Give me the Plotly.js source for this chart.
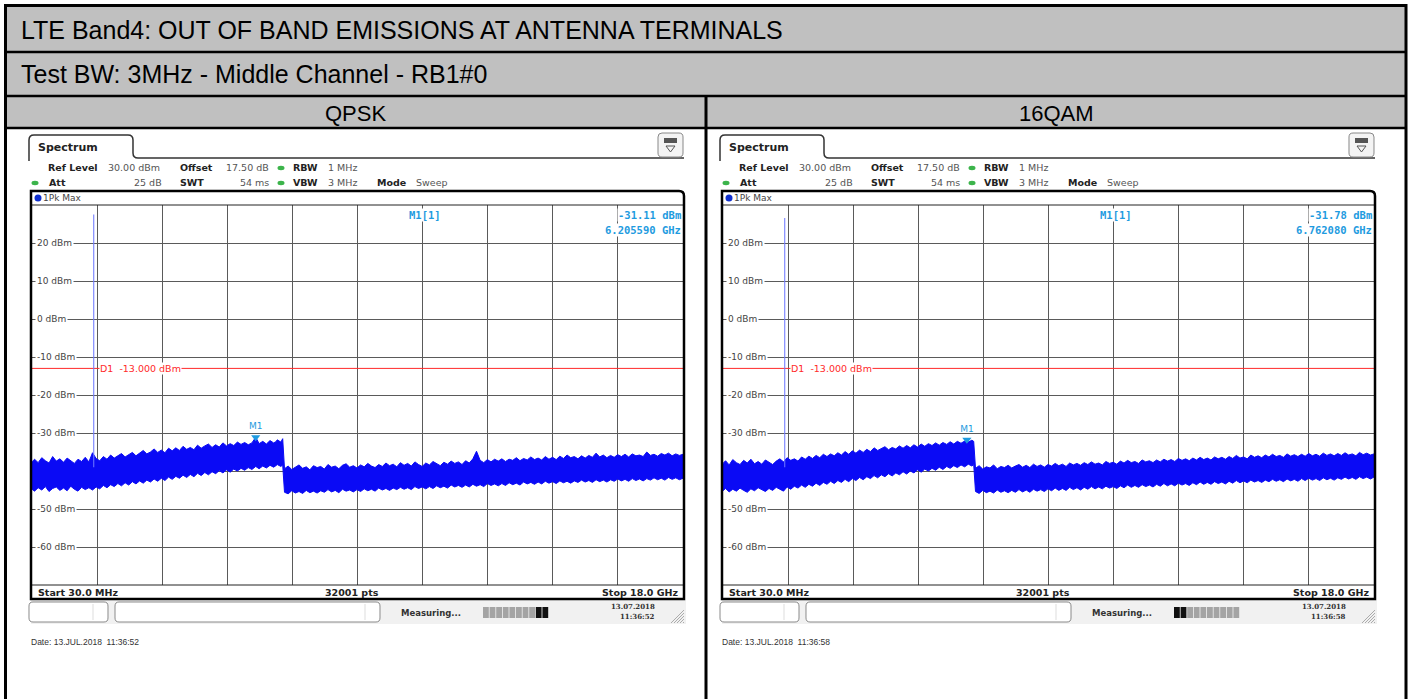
<!DOCTYPE html>
<html><head><meta charset="utf-8">
<script src="https://cdn.plot.ly/plotly-3.0.1.min.js"></script>
<style>html,body{margin:0;padding:0;background:#fff}#chart{width:1414px;height:699px}</style>
</head><body><div id="chart"></div>
<script>
// ---------- DATA ----------
// sweep frequencies (GHz): pre-step part, then post-step part
const freqPreGHz = [0.03,0.1,0.2,0.3,0.4,0.5,0.6,0.7,0.8,0.9,
 1.0,1.1,1.2,1.3,1.4,1.5,1.6,1.7,1.8,1.9,
 2.0,2.1,2.2,2.3,2.4,2.5,2.6,2.7,2.8,2.9,
 3.0,3.1,3.2,3.3,3.4,3.5,3.6,3.7,3.8,3.9,
 4.0,4.1,4.2,4.3,4.4,4.5,4.6,4.7,4.8,4.9,
 5.0,5.1,5.2,5.3,5.4,5.5,5.6,5.7,5.8,5.9,
 6.0,6.1,6.2056,6.3,6.4,6.5,6.6,6.7,6.762,6.8,6.9,6.95];
const freqPostGHz = [7.0,7.1,7.2,7.3,7.4,7.5,7.6,7.7,7.8,7.9,
 8.0,8.1,8.2,8.3,8.4,8.5,8.6,8.7,8.8,8.9,
 9.0,9.1,9.2,9.3,9.4,9.5,9.6,9.7,9.8,9.9,
 10.0,10.1,10.2,10.3,10.4,10.5,10.6,10.7,10.8,10.9,
 11.0,11.1,11.2,11.3,11.4,11.5,11.6,11.7,11.8,11.9,
 12.0,12.1,12.2,12.3,12.4,12.5,12.6,12.7,12.8,12.9,
 13.0,13.1,13.2,13.3,13.4,13.5,13.6,13.7,13.8,13.9,
 14.0,14.1,14.2,14.3,14.4,14.5,14.6,14.7,14.8,14.9,
 15.0,15.1,15.2,15.3,15.4,15.5,15.6,15.7,15.8,15.9,
 16.0,16.1,16.2,16.3,16.4,16.5,16.6,16.7,16.8,16.9,
 17.0,17.1,17.2,17.3,17.4,17.5,17.6,17.7,17.8,17.9,18.0];

// QPSK trace envelope (dBm)
const qpskMaxPre = [-37.6,-36.9,-37.8,-36.5,-37.3,-37.9,-36.2,-37.4,-36.8,-37.7,
 -36.6,-37.2,-38.0,-36.9,-37.5,-36.4,-37.6,-35.2,-36.7,-37.3,
 -36.2,-36.9,-35.8,-36.6,-36.0,-35.4,-36.3,-35.6,-35.1,-36.0,
 -35.3,-34.6,-35.5,-35.0,-34.2,-35.1,-34.5,-35.2,-34.0,-34.7,
 -33.9,-34.6,-33.5,-34.3,-33.8,-34.4,-33.2,-34.0,-33.4,-32.9,
 -33.8,-33.1,-33.7,-32.6,-33.4,-32.8,-33.3,-32.4,-33.0,-32.5,
 -33.1,-32.6,-31.11,-32.8,-32.2,-32.9,-32.0,-32.6,-32.3,-31.8,-32.4,-31.5];
const qpskMinPre = [-44.8,-45.3,-44.4,-45.0,-44.1,-45.4,-44.6,-44.2,-45.1,-44.5,
 -45.2,-44.0,-44.8,-45.3,-44.3,-44.9,-44.4,-45.0,-44.2,-44.7,
 -43.8,-44.4,-43.6,-44.1,-43.3,-43.9,-43.1,-43.7,-42.8,-43.4,
 -42.6,-43.2,-42.4,-42.9,-42.1,-42.7,-41.9,-42.5,-41.6,-42.2,
 -41.4,-41.9,-41.1,-41.7,-40.9,-41.5,-40.6,-41.2,-40.4,-41.0,
 -40.2,-40.7,-39.9,-40.5,-39.7,-40.3,-39.5,-40.0,-39.3,-39.8,
 -39.1,-39.6,-38.8,-39.4,-38.7,-39.2,-38.5,-39.0,-38.6,-38.3,-38.8,-38.4];
const qpskMaxPost = [-39.4,-38.7,-39.6,-39.0,-38.4,-39.3,-38.9,-39.7,-38.6,-39.1,
 -38.8,-39.5,-38.3,-39.0,-38.7,-39.4,-38.5,-38.1,-39.0,-38.6,
 -39.2,-38.4,-38.9,-38.0,-38.7,-39.1,-38.3,-38.8,-37.9,-38.6,
 -38.2,-38.9,-37.8,-38.5,-38.0,-38.7,-37.6,-38.3,-38.8,-37.9,
 -38.4,-37.5,-38.1,-38.6,-37.7,-38.2,-37.4,-38.0,-37.6,-38.3,
 -37.3,-37.9,-36.8,-34.8,-37.2,-37.8,-37.0,-37.6,-36.9,-37.4,
 -36.8,-37.5,-36.9,-37.2,-36.5,-37.3,-36.7,-37.1,-36.3,-37.0,
 -36.6,-37.1,-36.2,-36.9,-36.4,-37.0,-36.1,-36.7,-35.8,-36.5,
 -36.2,-36.8,-36.0,-36.6,-35.9,-36.4,-35.3,-36.3,-35.8,-36.5,
 -35.9,-36.4,-35.7,-36.2,-35.6,-36.3,-35.5,-36.0,-35.8,-36.2,
 -35.0,-35.9,-35.6,-36.1,-35.4,-35.8,-35.3,-36.0,-35.5,-35.9,-35.6];
const qpskMinPost = [-45.6,-46.0,-45.2,-45.8,-45.4,-45.9,-45.1,-45.7,-45.3,-45.8,
 -45.2,-45.6,-44.9,-45.5,-45.1,-45.7,-44.8,-45.3,-45.0,-45.5,
 -44.9,-45.4,-44.7,-45.2,-44.8,-45.3,-44.5,-45.0,-44.6,-45.1,
 -44.5,-44.9,-44.3,-44.8,-44.4,-44.9,-44.1,-44.6,-44.2,-44.7,
 -44.1,-44.6,-43.9,-44.4,-44.0,-44.5,-43.7,-44.2,-43.8,-44.3,
 -43.7,-44.2,-43.5,-44.0,-43.6,-44.1,-43.3,-43.8,-43.4,-43.9,
 -43.3,-43.8,-43.1,-43.6,-43.2,-43.7,-42.9,-43.4,-43.0,-43.5,
 -42.9,-43.4,-42.7,-43.2,-42.8,-43.3,-42.6,-43.1,-42.7,-43.2,
 -42.6,-43.0,-42.4,-42.9,-42.5,-43.0,-42.3,-42.8,-42.4,-42.9,
 -42.3,-42.7,-42.1,-42.6,-42.2,-42.7,-42.0,-42.5,-42.1,-42.6,
 -42.0,-42.4,-41.8,-42.3,-41.9,-42.4,-41.7,-42.2,-41.8,-42.3,-41.9];

// 16QAM trace envelope (dBm)
const qam16MaxPre = [-38.0,-37.3,-38.4,-37.0,-37.8,-38.3,-37.2,-37.9,-36.9,-38.1,
 -37.5,-38.2,-37.1,-37.7,-38.3,-37.4,-36.8,-37.6,-36.5,-37.2,
 -36.8,-37.4,-36.3,-36.9,-36.1,-36.7,-35.9,-36.5,-35.6,-36.2,
 -35.5,-36.0,-35.2,-35.8,-34.9,-35.6,-34.7,-35.3,-34.5,-35.1,
 -34.3,-34.9,-33.9,-34.6,-34.1,-33.6,-34.4,-33.8,-34.2,-33.4,
 -34.0,-33.3,-33.9,-33.1,-33.7,-32.9,-33.5,-32.8,-33.3,-32.6,
 -33.2,-32.5,-33.0,-32.3,-32.9,-32.2,-32.7,-32.1,-31.78,-32.4,-31.9,-32.2];
const qam16MinPre = [-45.2,-44.6,-45.5,-44.8,-45.3,-44.5,-45.1,-45.6,-44.7,-45.2,
 -44.4,-45.0,-45.4,-44.6,-45.1,-44.3,-44.9,-45.3,-44.2,-44.8,
 -44.0,-44.5,-43.7,-44.3,-43.5,-44.0,-43.2,-43.8,-43.0,-43.5,
 -42.7,-43.3,-42.5,-43.0,-42.2,-42.8,-42.0,-42.5,-41.7,-42.3,
 -41.5,-42.0,-41.2,-41.8,-41.0,-41.5,-40.7,-41.3,-40.5,-41.0,
 -40.2,-40.8,-40.0,-40.5,-39.7,-40.3,-39.5,-40.0,-39.3,-39.8,
 -39.0,-39.6,-38.8,-39.3,-38.6,-39.1,-38.4,-38.9,-38.5,-38.2,-38.7,-38.3];
const qam16MaxPost = [-39.3,-38.6,-39.5,-38.9,-39.2,-38.4,-39.4,-38.8,-39.1,-38.5,
 -39.2,-38.7,-38.3,-39.0,-38.5,-39.1,-38.2,-38.8,-38.4,-39.0,
 -38.3,-38.7,-38.0,-38.6,-38.2,-38.8,-37.9,-38.4,-38.0,-38.5,
 -37.8,-38.3,-37.6,-38.2,-37.9,-38.4,-37.5,-38.0,-37.7,-38.2,
 -37.4,-37.9,-37.2,-37.8,-37.5,-38.0,-37.1,-37.6,-37.3,-37.8,
 -37.1,-37.6,-36.9,-37.4,-37.0,-37.5,-36.7,-37.2,-36.8,-37.3,
 -36.6,-37.1,-36.4,-37.0,-36.6,-37.1,-36.3,-36.8,-36.4,-36.9,
 -36.2,-36.7,-35.9,-36.6,-36.3,-36.8,-35.8,-36.4,-36.0,-36.5,
 -35.8,-36.3,-35.6,-36.2,-35.9,-36.4,-35.5,-36.1,-35.7,-36.2,
 -35.6,-36.1,-35.4,-36.0,-35.6,-36.1,-35.3,-35.9,-35.5,-36.0,
 -35.4,-35.9,-35.2,-35.8,-35.5,-36.0,-35.1,-35.7,-35.3,-35.8,-35.5];
const qam16MinPost = [-45.4,-45.9,-45.1,-45.7,-45.3,-45.8,-45.0,-45.6,-45.2,-45.7,
 -45.1,-45.6,-44.9,-45.5,-45.0,-45.6,-44.8,-45.3,-44.9,-45.4,
 -44.7,-45.2,-44.5,-45.1,-44.6,-45.1,-44.3,-44.9,-44.4,-45.0,
 -44.3,-44.8,-44.1,-44.7,-44.2,-44.7,-44.0,-44.5,-44.1,-44.6,
 -43.9,-44.4,-43.7,-44.3,-43.8,-44.3,-43.6,-44.1,-43.7,-44.2,
 -43.5,-44.0,-43.3,-43.9,-43.4,-43.9,-43.2,-43.7,-43.3,-43.8,
 -43.1,-43.6,-42.9,-43.5,-43.0,-43.5,-42.8,-43.3,-42.9,-43.4,
 -42.7,-43.2,-42.5,-43.1,-42.6,-43.1,-42.4,-42.9,-42.5,-43.0,
 -42.4,-42.8,-42.2,-42.7,-42.3,-42.8,-42.1,-42.6,-42.2,-42.7,
 -42.0,-42.5,-41.9,-42.4,-42.0,-42.5,-41.8,-42.3,-41.9,-42.4,
 -41.8,-42.2,-41.6,-42.1,-41.7,-42.2,-41.5,-42.0,-41.6,-42.1,-41.6];

const panelNames   = ['QPSK', '16QAM'];
const carrierGHz   = [1.7325, 1.7325];
const carrierPeak  = [27.5, 26.6];
const carrierFloor = [-39, -39];
const markerGHz    = [6.205590, 6.762080];
const markerDbm    = [-31.11, -31.78];
const displayLineDbm = -13;
const startGHz = 0.03, stopGHz = 18.0, divGHz = 1.797;
const refLevelDbm = 30, bottomDbm = -70;
const yTickDbm = [20, 10, 0, -10, -20, -30, -50, -60];
const captureDate = '13.07.2018';
const captureTimes = ['11:36:52', '11:36:58'];
const dateLines = ['Date: 13.JUL.2018  11:36:52', 'Date: 13.JUL.2018  11:36:58'];

// ---------- helpers (pixel -> paper) ----------
const W = 1414, H = 699;
const px = x => x / W;
const py = y => 1 - y / H;
const P = (x, y) => px(x).toFixed(6) + ',' + py(y).toFixed(6);
const shapes = [], annotations = [];
const NONE = 'rgba(0,0,0,0)';
function rect(x0, y0, x1, y1, lc, lw, fill, layer) {
  shapes.push({type:'rect', xref:'paper', yref:'paper', x0:px(x0), x1:px(x1), y0:py(y1), y1:py(y0),
    line:{color:lc||NONE, width:lw||0}, fillcolor:fill||NONE, layer:layer||'above'});
}
function seg(x0, y0, x1, y1, c, w) {
  shapes.push({type:'line', xref:'paper', yref:'paper', x0:px(x0), x1:px(x1), y0:py(y0), y1:py(y1),
    line:{color:c, width:w}, layer:'above'});
}
function path(d, c, w, fill) {
  shapes.push({type:'path', xref:'paper', yref:'paper', path:d, line:{color:c, width:w}, fillcolor:fill||NONE, layer:'above'});
}
function ell(cx, cy, rx, ry, fill) {
  shapes.push({type:'circle', xref:'paper', yref:'paper', x0:px(cx-rx), x1:px(cx+rx), y0:py(cy+ry), y1:py(cy-ry),
    line:{width:0}, fillcolor:fill, layer:'above'});
}
function roundRect(x0, y0, x1, y1, r, c, w, fill) {
  const d = `M${P(x0+r,y0)} L${P(x1-r,y0)} Q${P(x1,y0)} ${P(x1,y0+r)} L${P(x1,y1-r)} Q${P(x1,y1)} ${P(x1-r,y1)} L${P(x0+r,y1)} Q${P(x0,y1)} ${P(x0,y1-r)} L${P(x0,y0+r)} Q${P(x0,y0)} ${P(x0+r,y0)} Z`;
  path(d, c, w, fill);
}
function txt(x, y, s, o) {
  o = o || {};
  annotations.push({xref:'paper', yref:'paper', x:px(x), y:py(y), text:o.bold ? '<b>'+s+'</b>' : s,
    showarrow:false, xanchor:o.anchor||'left', yanchor:'middle',
    font:{family:o.family||'DejaVu Sans', size:o.size||10, color:o.color||'#222'},
    bgcolor:o.bg||NONE, borderpad:o.pad||0});
}

// ---------- table frame ----------
rect(6, 6, 1406, 128, NONE, 0, '#c0c0c0', 'below');
txt(20, 30, 'LTE Band4: OUT OF BAND EMISSIONS AT ANTENNA TERMINALS', {family:'Liberation Sans', size:25, color:'#000'});
txt(20, 74, 'Test BW: 3MHz - Middle Channel - RB1#0', {family:'Liberation Sans', size:25, color:'#000'});
txt(356, 113, panelNames[0], {family:'Liberation Sans', size:22, color:'#000', anchor:'center'});
txt(1056, 113, panelNames[1], {family:'Liberation Sans', size:22, color:'#000', anchor:'center'});
seg(6, 52, 1406, 52, '#000', 2.5);
seg(6, 96, 1406, 96, '#000', 2.5);
seg(6, 128, 1406, 128, '#000', 2.5);
seg(706, 96, 706, 700, '#000', 3);
rect(5.5, 5.5, 1406, 705, '#000', 3, NONE);

// ---------- traces / screenshot chrome per panel ----------
const BLUE = '#0a0af5', MK = '#1e9be0', RED = '#ff2a2a', GREEN = '#3cb44b';
const traces = [];
const axSuffix = ['', '2'];
const freqGHz = freqPreGHz.concat(freqPostGHz);
const series = [[qpskMinPre.concat(qpskMinPost), qpskMaxPre.concat(qpskMaxPost)],
                [qam16MinPre.concat(qam16MinPost), qam16MaxPre.concat(qam16MaxPost)]];

for (let i = 0; i < 2; i++) {
  const dx = i * 691;
  const xa = 'x' + axSuffix[i], ya = 'y' + axSuffix[i];
  const [mn, mx] = series[i];
  traces.push({x:[startGHz, stopGHz], y:[displayLineDbm, displayLineDbm], xaxis:xa, yaxis:ya, mode:'lines',
    line:{color:RED, width:1}, hoverinfo:'skip'});
  traces.push({x:freqGHz, y:mn, xaxis:xa, yaxis:ya, mode:'lines', line:{color:BLUE, width:1}, hoverinfo:'skip'});
  traces.push({x:freqGHz, y:mx, xaxis:xa, yaxis:ya, mode:'lines', fill:'tonexty', fillcolor:BLUE,
    line:{color:BLUE, width:1}, hoverinfo:'skip'});
  traces.push({x:[carrierGHz[i], carrierGHz[i]], y:[carrierFloor[i], carrierPeak[i]], xaxis:xa, yaxis:ya, mode:'lines',
    line:{color:'rgba(110,120,255,0.8)', width:1.3}, hoverinfo:'skip'});
  traces.push({x:[markerGHz[i]], y:[markerDbm[i]], xaxis:xa, yaxis:ya, mode:'markers+text', text:['M1'],
    textposition:'top center', textfont:{family:'DejaVu Sans', size:9, color:MK},
    marker:{symbol:'triangle-down', size:8, color:MK}, hoverinfo:'skip'});

  // y labels
  yTickDbm.forEach(v => annotations.push({xref:'paper', yref:ya, x:px(35+dx), y:v, text:v+' dBm', showarrow:false,
    xanchor:'left', yanchor:'middle', font:{family:'DejaVu Sans', size:9, color:'#444'}, bgcolor:'#fff', borderpad:1}));
  // display line label
  annotations.push({xref:xa, yref:ya, x:startGHz+divGHz, y:displayLineDbm, xshift:2, text:'D1  '+displayLineDbm.toFixed(3)+' dBm',
    showarrow:false, xanchor:'left', yanchor:'middle', font:{family:'DejaVu Sans', size:9.5, color:RED}, bgcolor:'#fff', borderpad:0});
  // marker readout
  txt(408+dx, 215, 'M1[1]', {family:'DejaVu Sans Mono', size:10.5, color:MK, bg:'#fff', bold:true});
  txt(682+dx, 215, markerDbm[i].toFixed(2)+' dBm', {family:'DejaVu Sans Mono', size:10.5, color:MK, bg:'#fff', anchor:'right', bold:true});
  txt(682+dx, 230, markerGHz[i].toFixed(6)+' GHz', {family:'DejaVu Sans Mono', size:10.5, color:MK, bg:'#fff', anchor:'right', bold:true});

  // tab + header line
  path(`M${P(29+dx,161)} L${P(29+dx,140)} Q${P(29+dx,135)} ${P(34+dx,135)} L${P(128+dx,135)} Q${P(133+dx,135)} ${P(133+dx,140)} L${P(133+dx,153)} Q${P(133+dx,158)} ${P(138+dx,158)} L${P(684+dx,158)}`, '#333', 1.5);
  txt(37+dx, 147, 'Spectrum', {size:11, bold:true, color:'#222'});
  roundRect(658+dx, 133, 683+dx, 157, 4, '#888', 1, '#f4f4f4');
  rect(664+dx, 138, 677+dx, 143, NONE, 0, '#555');
  path(`M${P(666+dx,146)} L${P(675+dx,146)} L${P(670.5+dx,152)} Z`, '#555', 1);

  // settings lines
  const g = '#555';
  txt(47+dx, 167, 'Ref Level', {size:9.5, bold:true});
  txt(107+dx, 167, '30.00 dBm', {size:9.5, color:g});
  txt(179+dx, 167, 'Offset', {size:9.5, bold:true});
  txt(270+dx, 167, '17.50 dB', {size:9.5, color:g, anchor:'right'});
  ell(281+dx, 168, 3.5, 2.2, GREEN);
  txt(292+dx, 167, 'RBW', {size:9.5, bold:true});
  txt(327+dx, 167, '1 MHz', {size:9.5, color:g});
  ell(35+dx, 183, 3.5, 2.2, GREEN);
  txt(48+dx, 182, 'Att', {size:9.5, bold:true});
  txt(163+dx, 182, '25 dB', {size:9.5, color:g, anchor:'right'});
  txt(179+dx, 182, 'SWT', {size:9.5, bold:true});
  txt(270+dx, 182, '54 ms', {size:9.5, color:g, anchor:'right'});
  ell(281+dx, 183, 3.5, 2.2, GREEN);
  txt(292+dx, 182, 'VBW', {size:9.5, bold:true});
  txt(327+dx, 182, '3 MHz', {size:9.5, color:g});
  txt(376+dx, 182, 'Mode', {size:9.5, bold:true});
  txt(415+dx, 182, 'Sweep', {size:9.5, color:g});

  // trace info row
  ell(38+dx, 198, 3.5, 3.5, '#1030d0');
  txt(42+dx, 198, '1Pk Max', {size:9, color:'#444'});
  seg(31+dx, 205, 684+dx, 205, '#222', 1);

  // bottom bar
  seg(31+dx, 585, 684+dx, 585, '#222', 1);
  txt(37+dx, 592, 'Start 30.0 MHz', {size:9.5, bold:true});
  txt(352+dx, 592, '32001 pts', {size:9.5, bold:true, anchor:'center'});
  txt(680+dx, 592, 'Stop 18.0 GHz', {size:9.5, bold:true, anchor:'right'});
  // outer screen frame
  path(`M${P(31+dx,599)} L${P(31+dx,191)} L${P(679+dx,191)} Q${P(684+dx,191)} ${P(684+dx,196)} L${P(684+dx,599)} Z`, '#000', 2.5);

  // status row
  rect(31+dx, 600, 686+dx, 624, NONE, 0, '#f1f1f1', 'below');
  roundRect(29+dx, 602, 108+dx, 622, 4, '#8a8a8a', 1, '#fff');
  seg(93+dx, 604, 93+dx, 620, '#ddd', 1);
  roundRect(115+dx, 602, 380+dx, 622, 4, '#8a8a8a', 1, '#fff');
  seg(365+dx, 604, 365+dx, 620, '#ddd', 1);
  txt(400+dx, 613, 'Measuring...', {size:8.5, bold:true, color:'#333'});
  for (let b = 0; b < 10; b++) {
    const dark = i === 0 ? b >= 8 : b < 2;
    rect(483+dx+b*6.6, 607, 488.8+dx+b*6.6, 618, NONE, 0, dark ? '#111' : '#a4a4a4');
  }
  txt(656+dx, 606, captureDate, {size:7, bold:true, color:'#333', anchor:'right', family:'DejaVu Serif'});
  txt(656+dx, 616, captureTimes[i], {size:7, bold:true, color:'#333', anchor:'right', family:'DejaVu Serif'});
  for (let k = 0; k < 5; k++) seg(671+dx+k*3, 623, 684+dx, 610+k*3, '#999', 0.8);

  txt(30+dx, 642, dateLines[i], {family:'Liberation Sans', size:8.5, color:'#333'});
}

const axBase = {range:[startGHz, stopGHz], tick0:startGHz, dtick:divGHz, showgrid:true, gridcolor:'#5a5a5a', gridwidth:1,
  zeroline:false, showticklabels:false, ticks:'', showline:false, fixedrange:true};
const ayBase = {range:[bottomDbm, refLevelDbm], tick0:0, dtick:10, showgrid:true, gridcolor:'#5a5a5a', gridwidth:1,
  zeroline:false, showticklabels:false, ticks:'', showline:false, fixedrange:true, domain:[py(585), py(205)]};

const layout = {
  width:W, height:H, margin:{l:0, r:0, t:0, b:0}, paper_bgcolor:'#fff', plot_bgcolor:'#fff', showlegend:false,
  xaxis:Object.assign({}, axBase, {domain:[px(32), px(683)], anchor:'y'}),
  yaxis:Object.assign({}, ayBase, {anchor:'x'}),
  xaxis2:Object.assign({}, axBase, {domain:[px(723), px(1374)], anchor:'y2'}),
  yaxis2:Object.assign({}, ayBase, {anchor:'x2'}),
  shapes:shapes, annotations:annotations
};
Plotly.newPlot('chart', traces, layout, {displayModeBar:false, staticPlot:true});
</script></body></html>
